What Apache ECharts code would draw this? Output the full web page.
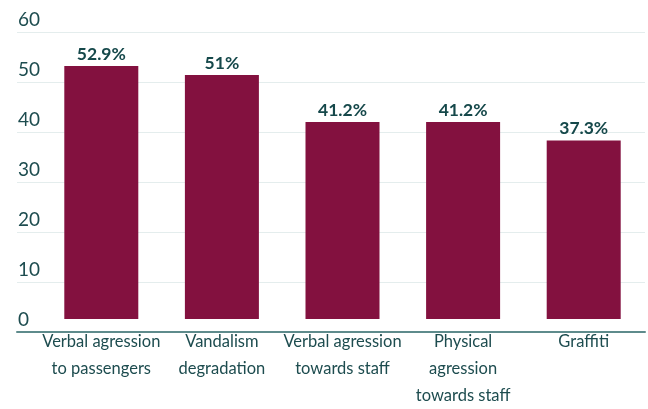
<!DOCTYPE html>
<html>
<head>
<meta charset="utf-8">
<script src="https://cdn.jsdelivr.net/npm/echarts@6/dist/echarts.min.js"></script>
<style>
  html, body { margin: 0; padding: 0; background: #fff; }
  #chart { width: 648px; height: 409px; }
</style>
</head>
<body>
<div id="chart"></div>
<script>
var categories = [
    'Verbal agression\nto passengers',
    'Vandalism\ndegradation',
    'Verbal agression\ntowards staff',
    'Physical\nagression\ntowards staff',
    'Graffiti'
];
var values = [52.9, 51, 41.2, 41.2, 37.3];
var valueLabels = ['52.9%', '51%', '41.2%', '41.2%', '37.3%'];

var textColor = '#1d4c4f';
var chart = echarts.init(document.getElementById('chart'));

chart.setOption({
    animation: false,
    grid: [
        // background grid: split lines + axis line across full width
        { left: 17, right: 3, top: 32, bottom: 77 },
        // bars grid
        { left: 41, right: 4, top: 32, bottom: 77 }
    ],
    xAxis: [
        {
            gridIndex: 0,
            type: 'category',
            data: [''],
            axisLine: { show: true, lineStyle: { color: '#5e8b8c', width: 2 } },
            axisTick: { show: false },
            axisLabel: { show: false }
        },
        {
            gridIndex: 1,
            type: 'category',
            data: categories,
            axisLine: { show: false },
            axisTick: { show: false },
            axisLabel: {
                color: textColor,
                fontFamily: 'Lato',
                fontSize: 16.5,
                lineHeight: 27,
                margin: 9,
                interval: 0
            }
        }
    ],
    yAxis: [
        {
            gridIndex: 0,
            type: 'value',
            min: 0,
            max: 60,
            interval: 10,
            axisLine: { show: false },
            axisTick: { show: false },
            splitLine: { lineStyle: { color: '#e4eded', width: 1 } },
            axisLabel: {
                inside: true,
                align: 'left',
                verticalAlign: 'bottom',
                margin: 1,
                padding: [0, 0, 3, 0],
                color: textColor,
                fontFamily: 'Lato',
                fontSize: 19
            }
        },
        {
            gridIndex: 1,
            type: 'value',
            min: 0,
            max: 60,
            show: false
        }
    ],
    series: [
        {
            type: 'bar',
            xAxisIndex: 1,
            yAxisIndex: 1,
            data: values,
            barWidth: 74,
            itemStyle: { color: '#83113f' },
            label: {
                show: true,
                position: 'top',
                distance: 3,
                color: '#15484a',
                fontFamily: 'Lato',
                fontWeight: 'bold',
                fontSize: 17.5,
                formatter: function (p) { return valueLabels[p.dataIndex]; }
            }
        }
    ]
});
</script>
</body>
</html>
